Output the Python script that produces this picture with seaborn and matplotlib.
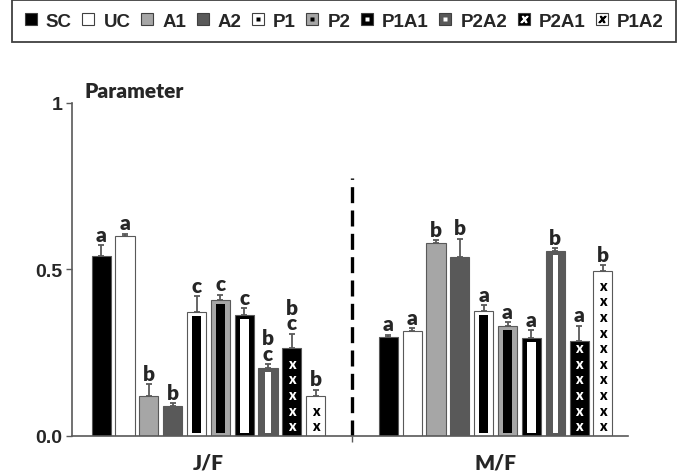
import numpy as np
import pandas as pd
import matplotlib.pyplot as plt
import seaborn as sns
from matplotlib.lines import Line2D
from matplotlib.patches import Rectangle

# Data
groups = ['J/F', 'M/F']
treatments = ['SC', 'UC', 'A1', 'A2', 'P1', 'P2', 'P1A1', 'P2A2', 'P2A1', 'P1A2']
jf_values = [0.540, 0.600, 0.120, 0.089, 0.372, 0.407, 0.364, 0.204, 0.263, 0.120]
jf_errors = [0.032, 0.007, 0.035, 0.009, 0.048, 0.017, 0.019, 0.010, 0.043, 0.018]
mf_values = [0.296, 0.314, 0.579, 0.538, 0.375, 0.331, 0.293, 0.555, 0.286, 0.496]
mf_errors = [0.007, 0.010, 0.009, 0.054, 0.018, 0.010, 0.024, 0.009, 0.045, 0.017]
jf_letters = ['a', 'a', 'b', 'b', 'c', 'c', 'c', 'b\nc', 'b\nc', 'b']
mf_letters = ['a', 'a', 'b', 'b', 'a', 'a', 'a', 'b', 'a', 'b']

# Styles
fill_colors = ['#000000', '#ffffff', '#a6a6a6', '#595959', '#ffffff',
               '#a6a6a6', '#000000', '#595959', '#000000', '#ffffff']
inner_colors = [None, None, None, None, '#000000', '#000000', '#ffffff', '#ffffff', None, None]
inner_inset = [0, 0, 0, 0, 0.25, 0.25, 0.27, 0.36, 0, 0]
x_colors = [None] * 8 + ['#ffffff', '#000000']
edge = '#595959'
letter_font = 'Lato'
arial = 'Liberation Sans'

df = pd.DataFrame({
    'group': np.repeat(groups, len(treatments)),
    'treatment': treatments * 2,
    'value': jf_values + mf_values,
    'err': jf_errors + mf_errors,
    'letter': jf_letters + mf_letters,
})

sns.set_style('white')
fig = plt.figure(figsize=(6.88, 4.77), dpi=100)
ax = fig.add_axes([0.1047, 0.0845, 0.8081, 0.6975])

sns.barplot(data=df, x='group', y='value', hue='treatment', order=groups,
            hue_order=treatments, palette=dict(zip(treatments, fill_colors)),
            saturation=1, width=0.83, gap=0.2, errorbar=None,
            edgecolor=edge, linewidth=0.8, legend=False, ax=ax)

# Decorate each bar: inner boxes, x marks, error bars and letters
for i, (trt, cont) in enumerate(zip(treatments, ax.containers)):
    bars = sorted(cont.patches, key=lambda b: b.get_x())
    for g, bar in zip(groups, bars):
        row = df[(df['group'] == g) & (df['treatment'] == trt)].iloc[0]
        x0, w, h = bar.get_x(), bar.get_width(), bar.get_height()
        cx = x0 + w / 2
        if inner_colors[i]:
            ix = w * inner_inset[i]
            ax.add_patch(Rectangle((x0 + ix, 0.008), w - 2 * ix, h - 0.020,
                                   facecolor=inner_colors[i], edgecolor='none', zorder=3))
        if x_colors[i]:
            yc = 0.025
            while yc <= h - 0.025:
                ax.text(cx, yc - 0.009, 'x', ha='center', va='baseline',
                        color=x_colors[i], fontsize=10, fontweight='heavy',
                        family=letter_font, zorder=4)
                yc += 0.047
        ax.errorbar(cx, h, yerr=[[0], [row['err']]], fmt='none', ecolor=edge,
                    elinewidth=1.3, capsize=2.5, capthick=1.3, zorder=2)
        ax.annotate(row['letter'], (cx, h + row['err']), xytext=(0, 1),
                    textcoords='offset points', ha='center', va='bottom',
                    fontsize=15, fontweight='heavy', family=letter_font,
                    linespacing=0.8)

# Separator
ax.axvline(0.5, ymin=0, ymax=0.775, color='black', lw=2.4,
           linestyle=(0, (4.8, 2.2)), zorder=1)

# Axes styling
ax.set_ylim(0, 1)
ax.set_xlim(-0.475, 1.461)
ax.set_yticks([0, 0.5, 1])
ax.set_yticklabels(['0.0', '0.5', '1'])
ax.set_xlabel('')
ax.set_ylabel('')
sns.despine(ax=ax)
for s in ['left', 'bottom']:
    ax.spines[s].set_color(edge)
    ax.spines[s].set_linewidth(1.2)
ax.tick_params(axis='y', direction='out', length=4, width=1, color=edge, pad=3, left=True)
for lab in ax.get_yticklabels():
    lab.set_fontsize(14)
    lab.set_fontweight('bold')
    lab.set_family(arial)
ax.tick_params(axis='x', length=0, pad=12)
for lab in ax.get_xticklabels():
    lab.set_fontsize(15)
    lab.set_fontweight('heavy')
    lab.set_family(letter_font)
ax.set_xticks([0.5], minor=True)
ax.tick_params(axis='x', which='minor', direction='out', length=4.5, width=1,
               color=edge, bottom=True)

ax.text(0.023, 1.018, 'Parameter', transform=ax.transAxes, ha='left', va='baseline',
        fontsize=15, fontweight='heavy', family=letter_font)

# Legend
handles = []
for i, trt in enumerate(treatments):
    outer = Line2D([], [], marker='s', ls='none', markersize=8,
                   markerfacecolor=fill_colors[i], markeredgecolor='#404040',
                   markeredgewidth=0.8)
    if inner_colors[i]:
        inner = Line2D([], [], marker='s', ls='none', markersize=3,
                       markerfacecolor=inner_colors[i], markeredgecolor='none')
        handles.append((outer, inner))
    elif x_colors[i]:
        inner = Line2D([], [], marker='$x$', ls='none', markersize=5,
                       markerfacecolor=x_colors[i], markeredgecolor=x_colors[i])
        handles.append((outer, inner))
    else:
        handles.append(outer)

leg = fig.legend(handles, treatments, loc='center', ncol=10, mode='expand',
                 bbox_to_anchor=(0.004, 0.913, 0.992, 0.082), frameon=True,
                 fancybox=False, framealpha=1, edgecolor='#404040',
                 handlelength=0.7, handletextpad=0.45, borderpad=0.65,
                 prop={'family': arial, 'weight': 'bold', 'size': 13.5})
leg.get_frame().set_linewidth(1.3)

fig.savefig('out.png', dpi=100)
